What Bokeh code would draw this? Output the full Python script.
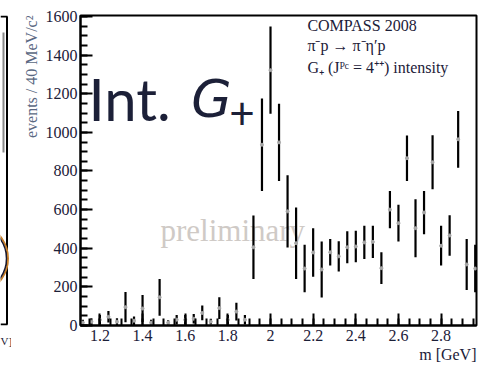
import numpy as np
from bokeh.plotting import figure
from bokeh.layouts import row
from bokeh.models import ColumnDataSource, Range1d, FixedTicker, Label, Title
from bokeh.core.properties import value
from bokeh.embed import file_html
from bokeh.resources import INLINE

# G+ (J^PC = 4++) intensity per 40 MeV mass bin
mass = [1.12, 1.16, 1.20, 1.24, 1.28, 1.32, 1.36, 1.40, 1.44, 1.48,
        1.52, 1.56, 1.60, 1.64, 1.68, 1.72, 1.76, 1.80, 1.84, 1.88,
        1.92, 1.96, 2.00, 2.04, 2.08, 2.12, 2.16, 2.20, 2.24, 2.28,
        2.32, 2.36, 2.40, 2.44, 2.48, 2.52, 2.56, 2.60, 2.64, 2.68,
        2.72, 2.76, 2.80, 2.84, 2.88, 2.92, 2.96]
intensity = [15, 20, 30, 45, 20, 95, 25, 88, 15, 146,
             15, 30, 30, 35, 65, 20, 90, 30, 72, 30,
             405, 936, 1322, 948, 591, 426, 295, 378, 290, 379,
             358, 405, 409, 430, 433, 297, 600, 530, 866, 504,
             585, 845, 413, 466, 964, 316, 295]
error = [15, 18, 25, 30, 18, 78, 22, 70, 15, 95,
         12, 25, 25, 25, 38, 15, 56, 25, 46, 25,
         164, 239, 226, 200, 187, 185, 123, 125, 145, 69,
         78, 83, 82, 86, 84, 82, 97, 95, 118, 150,
         112, 140, 103, 105, 147, 132, 123]

x_ticks = [1.2, 1.4, 1.6, 1.8, 2.0, 2.2, 2.4, 2.6, 2.8]
x_tick_labels = ["1.2", "1.4", "1.6", "1.8", "2", "2.2", "2.4", "2.6", "2.8"]
y_ticks = [0, 200, 400, 600, 800, 1000, 1200, 1400, 1600]

legend_lines = ["COMPASS 2008", "\u03c0\u207bp \u2192 \u03c0\u207b\u03b7\u2032p",
                "G\u208a (J\u1d3e\u1d9c = 4\u207a\u207a) intensity"]

SERIF = "Liberation Serif"
INK = "#1c2038"

src = ColumnDataSource(dict(
    m=mass, v=intensity,
    lo=[a - b for a, b in zip(intensity, error)],
    hi=[a + b for a, b in zip(intensity, error)],
))

p = figure(width=468, height=372, output_backend="svg", toolbar_location=None,
           x_range=Range1d(1.109, 2.966), y_range=Range1d(0, 1605),
           min_border_left=69, min_border_right=3, min_border_top=15,
           min_border_bottom=47)
p.background_fill_color = "white"
p.border_fill_color = "white"
p.outline_line_color = "black"
p.outline_line_width = 2
p.xgrid.visible = False
p.ygrid.visible = False

# watermark behind the data
p.text(x=[1.484], y=[490], text=["preliminary"], text_font=value(SERIF),
       text_font_size="31px", text_color="#cfcac6", text_baseline="middle")

# error bars with central points
p.segment(x0="m", y0="lo", x1="m", y1="hi", source=src, line_color="black",
          line_width=2.2)
p.scatter(x="m", y="v", source=src, size=3, color="#a8a8a8")

# axes in the ROOT style: ticks pointing into the frame
xa = p.xaxis[0]
xa.ticker = FixedTicker(ticks=x_ticks, minor_ticks=list(np.round(np.arange(1.1, 3.0, 0.05), 2)))
xa.major_label_overrides = {t: s for t, s in zip(x_ticks, x_tick_labels)}
ya = p.yaxis[0]
ya.ticker = FixedTicker(ticks=y_ticks, minor_ticks=list(range(0, 1601, 50)))
for ax in (xa, ya):
    ax.axis_line_width = 2
    ax.axis_line_color = "black"
    ax.major_tick_in = 12
    ax.major_tick_out = 0
    ax.minor_tick_in = 7
    ax.minor_tick_out = 0
    ax.major_tick_line_width = 2
    ax.minor_tick_line_width = 2
    ax.major_label_text_font = SERIF
    ax.major_label_text_font_size = "16px"
    ax.major_label_text_color = INK
xa.major_label_standoff = 4
ya.major_label_standoff = 3

p.add_layout(Title(text="m [GeV]", align="right", text_font=SERIF,
                   text_font_size="16px", text_font_style="normal",
                   text_color=INK, standoff=0, offset=0), "below")
p.add_layout(Title(text="events / 40 MeV/c\u00b2", align="right", text_font=SERIF,
                   text_font_size="16px", text_font_style="normal",
                   text_color="#5a6882", standoff=6), "left")

# big panel caption
p.add_layout(Label(x=1.146, y=1173, text="Int.", text_font="Lato",
                   text_font_size="58px", text_color=INK, text_baseline="middle"))
p.add_layout(Label(x=1.628, y=1173, text="G", text_font="DejaVu Sans",
                   text_font_style="italic",
                   text_font_size="52px", text_color=INK, text_baseline="middle"))
p.add_layout(Label(x=1.806, y=1100, text="+", text_font="Lato",
                   text_font_size="44px", text_color=INK, text_baseline="middle"))

# legend block at the upper right
for line, yv in zip(legend_lines, [1551, 1452, 1338]):
    p.add_layout(Label(x=2.173, y=yv, text=line, text_font=SERIF,
                       text_font_size="16px", text_color=INK,
                       text_baseline="middle"))

# edge of the neighbouring panel on the left; its frame lines up with the
# main frame, so the range is given in window pixels counted from the bottom
s = figure(width=11, height=372, output_backend="svg", toolbar_location=None,
           title=None, x_axis_location=None, y_axis_location=None,
           x_range=Range1d(0, 11), y_range=Range1d(47, 357),
           min_border=0, min_border_left=0, min_border_right=0,
           min_border_top=0, min_border_bottom=0)
s.grid.visible = False
s.outline_line_color = None
s.segment(x0=[6.5, 0, 0], y0=[48, 356, 48], x1=[6.5, 7, 7], y1=[356, 356, 48],
          line_color="black", line_width=2)
s.segment(x0=[3], y0=[220], x1=[3], y1=[340], line_color="#8a8a8a", line_width=2)
s.arc(x=[-28], y=[114], radius=35.5, start_angle=-1.2, end_angle=1.2,
      line_color="#c8802a", line_width=2)
s.arc(x=[-28], y=[114], radius=34, start_angle=-1.2, end_angle=1.2,
      line_color="#1a1a30", line_width=1.5)
s.add_layout(Title(text="V]", align="left", text_font=SERIF, text_font_size="11px",
                   text_font_style="normal", text_color=INK, standoff=14,
                   offset=0), "below")

layout = row(s, p)
open("out.html", "w").write(file_html(layout, INLINE))
